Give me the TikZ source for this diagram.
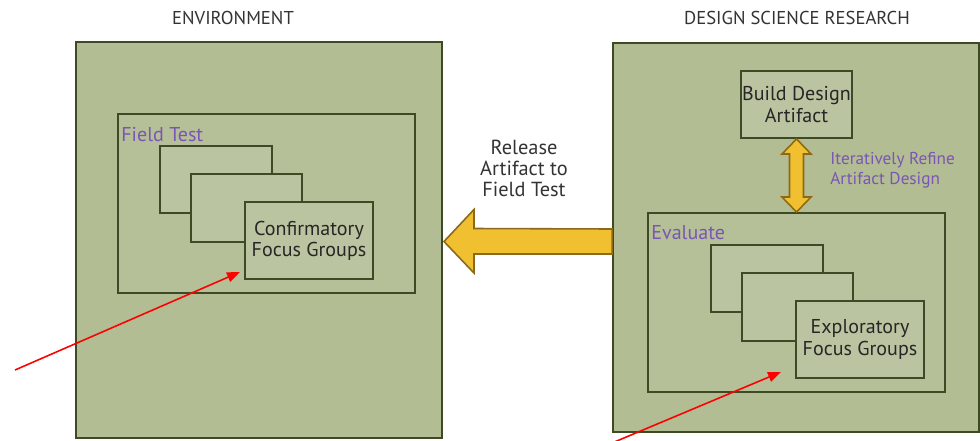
\documentclass[tikz,border=0pt]{standalone}
\usepackage{fontspec}
\setmainfont{PT Sans}
\usetikzlibrary{calc,arrows.meta}

\definecolor{boxgreen}{HTML}{B3BD94}
\definecolor{boxlight}{HTML}{BAC4A0}
\definecolor{boxedge}{HTML}{3E4A26}
\definecolor{goldfill}{HTML}{F0C030}
\definecolor{goldedge}{HTML}{8A6A1A}
\definecolor{tagpurple}{HTML}{7A55B5}
\definecolor{titlegray}{HTML}{333333}

\begin{document}
\begin{tikzpicture}[x=0.02cm, y=-0.02cm,
	pane/.style 2 args={draw=boxedge, line width=1.1pt, fill=boxgreen, inner sep=0pt,
		minimum width=#1*0.02cm, minimum height=#2*0.02cm},
	card/.style 2 args={pane={#1}{#2}, fill=boxlight, align=center, text=black!85,
		font=\fontsize{11.4pt}{13pt}\selectfont},
	tag/.style={text=tagpurple, inner sep=0pt, font=\fontsize{11.4pt}{13pt}\selectfont},
	heading/.style={text=titlegray, font=\fontsize{10.6pt}{13pt}\selectfont},
	goldarrow/.style={fill=goldfill, draw=goldedge, line width=0.9pt, line join=miter},
	pointer/.style={red, line width=0.9pt, -{Triangle[length=0.26cm, width=0.2cm]}}]

\useasboundingbox (0,0) rectangle (980,440);

% Titulos
\node[heading] (envtitle) at (233,18) {ENVIRONMENT};
\node[heading] (dsrtitle) at (797,18) {DESIGN SCIENCE RESEARCH};

% Cajas exteriores
\node[pane={366}{396}] (env) at (259,240) {};
\node[pane={366}{389}] (dsr) at (796,237.5) {};

\node[pane={297}{179}, fill=boxgreen!70!boxlight] (field) at (266.5,203.5) {};
\node[pane={297}{179}, fill=boxgreen!70!boxlight] (eval) at (796.5,302.5) {};

\node[tag, anchor=west] (fieldtag) at ($(field.north west)+(4,21)$) {Field Test};
\node[tag, anchor=west] (evaltag) at ($(eval.north west)+(4,21)$) {Evaluate};

% Grupos focales
\foreach \sx/\sy/\nm/\txt in {0/0/conf/Confirmatory, 551/99/expl/Exploratory} {
	\node[card={112}{67}] at (216+\sx,179.5+\sy) {};
	\node[card={111}{68}] at (246.5+\sx,208+\sy) {};
	\node[card={128}{77}] (\nm) at (309+\sx,240.5+\sy) {\txt\\[-1pt]Focus Groups};
}

\node[card={111}{67}] (build) at (796.5,104.5) {Build Design\\[-1pt]Artifact};
\node[tag, anchor=west, align=left, font=\fontsize{9.8pt}{11.5pt}\selectfont] (refine) at (830,170) {Iteratively Refine\\Artifact Design};

% Flechas
\draw[goldarrow] (build.south) -- ++(14.5,15) -- ++(-7.5,0) -- ($(eval.north)+(7,-15)$)
	-- ++(7.5,0) -- (eval.north) -- ++(-14.5,-15) -- ++(7.5,0)
	-- ($(build.south)+(-7,15)$) -- ++(-7.5,0) -- cycle;

\draw[goldarrow] ($(env.east)+(1,1.5)$) -- ++(30,-32) -- ++(0,19) -- ($(dsr.west|-env.east)+(0,-11)$)
	-- ++(0,25) -- ($(env.east)+(31,14)$) -- ++(0,19) -- cycle;

\node[heading, align=center, font=\fontsize{11.6pt}{12pt}\selectfont] (release) at (524,168) {Release\\Artifact to\\Field Test};

\coordinate (p1) at (15,370);
\coordinate (p2) at (612,443);
\draw[pointer] (p1) -- ($(conf.south west)+(-4,-8)$);
\draw[pointer] (p2) -- ($(expl.south west)+(-14,-7)$);

\end{tikzpicture}
\end{document}
